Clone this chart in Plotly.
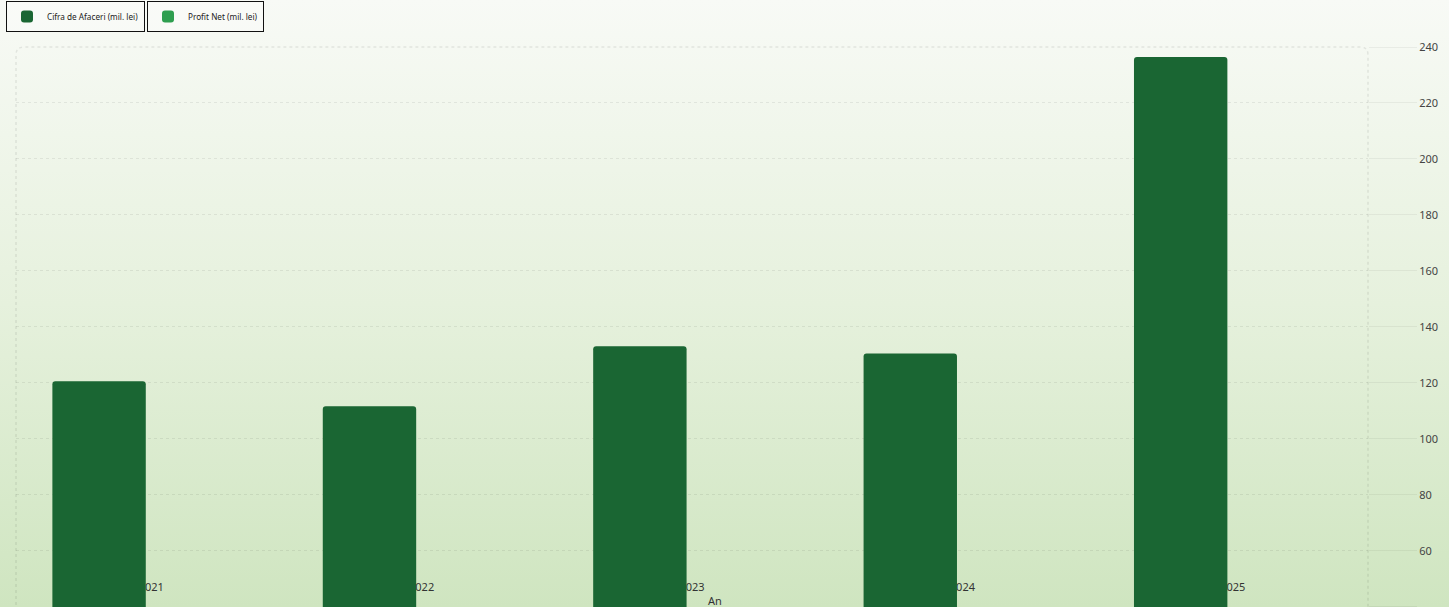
import base64
import plotly.graph_objects as go

years = ["2021", "2022", "2023", "2024", "2025"]
cifra_afaceri = [120.6, 111.6, 133.1, 130.5, 236.4]
profit_net = [8.5, 6.2, 11.3, 9.8, 21.4]

series_names = ["Cifra de Afaceri (mil. lei)", "Profit Net (mil. lei)"]
y_ticks = [40, 60, 80, 100, 120, 140, 160, 180, 200, 220, 240]
x_title = "An"

W, H = 1449, 607
ML, MR, MT, MB = 16, 81, 47, 0
PW, PH = W - ML - MR, H - MT - MB

svg = (
    '<svg xmlns="http://www.w3.org/2000/svg" width="100" height="100" preserveAspectRatio="none">'
    '<defs><linearGradient id="g" x1="0" y1="0" x2="0" y2="1">'
    '<stop offset="0" stop-color="#f8faf6"/>'
    '<stop offset="0.5" stop-color="#e6f1dd"/>'
    '<stop offset="1" stop-color="#cfe5c0"/>'
    '</linearGradient></defs>'
    '<rect width="100" height="100" fill="url(#g)"/></svg>'
)
bg_src = "data:image/svg+xml;base64," + base64.b64encode(svg.encode()).decode()

fig = go.Figure()
fig.add_trace(go.Bar(x=years, y=cifra_afaceri, name=series_names[0],
                     marker=dict(color="#1a6633", line=dict(width=0)),
                     legend="legend"))
fig.add_trace(go.Bar(x=years, y=profit_net, name=series_names[1],
                     marker=dict(color="#2e9e4f", line=dict(width=0)),
                     legend="legend2"))

rx, ry = 8 / PW, 8 / PH
path = (f"M 0,-0.2 L 0,{1-ry} Q 0,1 {rx},1 L {1-rx},1 Q 1,1 1,{1-ry} L 1,-0.2")

leg_y = 1 + (MT - 1) / PH
fig.update_layout(
    width=W, height=H,
    margin=dict(l=ML, r=MR, t=MT, b=MB, autoexpand=False),
    paper_bgcolor="#f8faf6",
    plot_bgcolor="rgba(0,0,0,0)",
    font=dict(family="Noto Sans", size=11, color="#333"),
    barmode="group",
    bargap=0.229,
    bargroupgap=0.104,
    barcornerradius=3,
    showlegend=True,
    legend=dict(x=(6 - ML) / PW, y=leg_y, xanchor="left", yanchor="top",
                bgcolor="rgba(255,255,255,0.25)", bordercolor="#111", borderwidth=1,
                font=dict(size=8.2, color="#222"), itemwidth=30),
    legend2=dict(x=(147 - ML) / PW, y=leg_y, xanchor="left", yanchor="top",
                 bgcolor="rgba(255,255,255,0.25)", bordercolor="#111", borderwidth=1,
                 font=dict(size=8.2, color="#222"), itemwidth=30),
    xaxis=dict(type="category", anchor="free", position=0.0496, layer="below traces",
               showgrid=False, showline=False, zeroline=False, ticks="",
               tickfont=dict(size=11, color="#333")),
    yaxis=dict(side="right", range=[39.9, 240], tickvals=y_ticks,
               showgrid=True, gridcolor="rgba(0,0,0,0.07)", griddash="dot",
               ticks="outside", ticklen=48, tickcolor="rgba(0,0,0,0.05)",
               showline=False, zeroline=False, layer="below traces",
               tickfont=dict(size=11, color="#444")),
    annotations=[dict(text=x_title, xref="paper", yref="paper",
                      x=(715 - ML) / PW, y=(H - 600) / PH, xanchor="center", yanchor="middle",
                      showarrow=False, font=dict(size=11, color="#333"))],
    images=[dict(source=bg_src, xref="paper", yref="paper",
                 x=-ML / PW, y=1 + MT / PH, sizex=W / PW, sizey=H / PH,
                 xanchor="left", yanchor="top", sizing="stretch", layer="below")],
    shapes=[dict(type="path", path=path, xref="paper", yref="paper",
                 line=dict(color="rgba(0,0,0,0.08)", width=1.5, dash="dot"),
                 layer="below")],
)

fig.write_html("out.html", config={"displayModeBar": False},
               post_script="document.body.style.margin='0';document.body.style.padding='0';")
